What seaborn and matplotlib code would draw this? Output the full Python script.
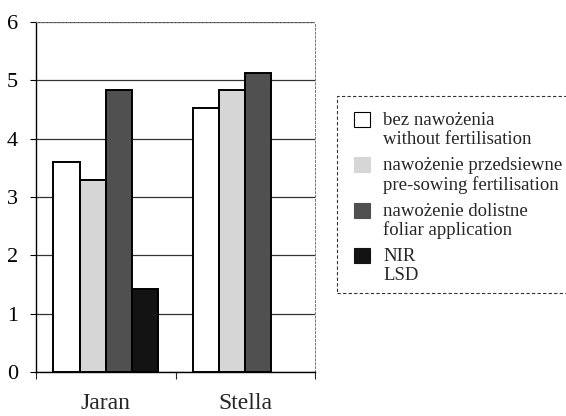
import numpy as np
import pandas as pd
import seaborn as sns
import matplotlib
matplotlib.use("Agg")
import matplotlib.pyplot as plt
from matplotlib.patches import Patch, Rectangle
from matplotlib.legend_handler import HandlerPatch

varieties = ["Jaran", "Stella"]
treatments = ["bez nawożenia\nwithout fertilisation",
              "nawożenie przedsiewne\npre-sowing fertilisation",
              "nawożenie dolistne\nfoliar application",
              "NIR\nLSD"]
jaran_vals = [3.6, 3.3, 4.83, 1.42]
stella_vals = [4.53, 4.83, 5.12, np.nan]
y_ticks = [0, 1, 2, 3, 4, 5, 6]

colors = ["#ffffff", "#d6d6d6", "#505050", "#131313"]

df = pd.DataFrame({
    "variety": [v for v in varieties for _ in treatments],
    "treatment": treatments * 2,
    "value": jaran_vals + stella_vals,
})

sns.set_style("white")
plt.rcParams["font.family"] = ["Liberation Serif", "DejaVu Serif"]

fig = plt.figure(figsize=(5.66, 4.16), dpi=100)
ax = fig.add_axes([36/566, 1-372/416, (315-36)/566, (372-22)/416])

sns.barplot(data=df, x="variety", y="value", hue="treatment",
            hue_order=treatments, order=varieties, palette=colors,
            width=0.75, edgecolor="black", linewidth=1.4, ax=ax,
            legend=False, zorder=3)

ax.set_ylim(0, 6)
ax.set_xlim(-0.5, 1.5)
ax.set_yticks(y_ticks)
ax.set_yticklabels([str(t) for t in y_ticks], fontsize=16)
ax.yaxis.grid(True, color="#333333", linewidth=0.9, zorder=0)
ax.set_axisbelow(True)
ax.tick_params(axis="y", direction="out", length=4, width=0.8, left=True,
               pad=9, colors="black")

ax.set_xticks([-0.5, 0.5, 1.5])
ax.set_xticklabels([])
ax.set_xticks([0, 1], minor=True)
ax.set_xticklabels(varieties, minor=True, fontsize=17)
ax.tick_params(axis="x", which="major", direction="out", length=5, width=0.8,
               bottom=True)
ax.tick_params(axis="x", which="minor", length=0, pad=15)
ax.set_xlabel("")
ax.set_ylabel("")

for s in ["left", "bottom"]:
    ax.spines[s].set_color("black")
    ax.spines[s].set_linewidth(1.0)
for s in ["top", "right"]:
    ax.spines[s].set_color("#777777")
    ax.spines[s].set_linewidth(0.7)
    ax.spines[s].set_linestyle((0, (2, 2)))


class TopPatchHandler(HandlerPatch):
    """Square handle aligned with the first line of a two-line label."""
    def create_artists(self, legend, orig_handle, xdescent, ydescent,
                       width, height, fontsize, trans):
        shift = 0.5 * fontsize * 1.1
        p = Rectangle((-xdescent, -ydescent + shift), width, height)
        self.update_prop(p, orig_handle, legend)
        p.set_transform(trans)
        return [p]


handles = [Patch(facecolor=c, edgecolor="black" if i == 0 else c, linewidth=0.8)
           for i, c in enumerate(colors)]
leg = fig.legend(handles, treatments, loc="upper left",
                 bbox_to_anchor=(354/566, 1-112/416), fontsize=13.5,
                 frameon=False, handlelength=0.85,
                 handleheight=0.85, handletextpad=0.7, labelspacing=0.47,
                 borderpad=0.0, borderaxespad=0,
                 handler_map={Patch: TopPatchHandler()})
for t in leg.get_texts():
    t.set_linespacing(1.15)

frame = Rectangle((337/566, 1-293/416), (570-337)/566, (293-96)/416,
                  transform=fig.transFigure, fill=False,
                  edgecolor="#333333", linewidth=0.8,
                  linestyle=(0, (3, 2)), clip_on=False)
fig.add_artist(frame)

fig.savefig("out.png", dpi=100)
